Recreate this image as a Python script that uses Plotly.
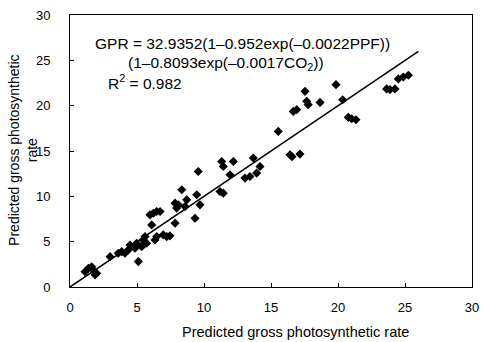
import plotly.graph_objects as go

observed = [1.12, 1.37, 1.62, 1.74, 1.99, 1.87, 2.99, 3.60, 3.86, 4.10, 4.35, 4.48, 4.85, 4.98,
            5.10, 5.35, 5.47, 5.60, 5.72, 6.10, 5.97, 6.22, 6.47, 6.72, 6.34, 6.47, 6.96, 7.22,
            7.46, 7.84, 7.96, 8.08, 7.84, 8.34, 8.71, 8.58, 9.33, 9.46, 9.57, 9.70, 11.19, 11.44,
            11.32, 11.44, 11.94, 12.19, 13.06, 13.43, 13.68, 13.93, 14.18, 15.54, 16.42, 16.57,
            17.16, 16.66, 16.92, 17.54, 17.66, 17.78, 18.66, 19.85, 20.35, 20.77, 21.02, 21.34,
            23.63, 23.88, 24.25, 24.50, 24.87, 25.25]
predicted = [1.69, 2.07, 2.24, 1.88, 1.51, 1.33, 3.35, 3.72, 3.90, 3.72, 4.09, 4.64, 4.28, 4.83,
             2.80, 4.45, 5.19, 5.56, 4.83, 6.85, 7.96, 8.14, 8.32, 8.32, 5.19, 5.56, 5.75, 5.56,
             5.64, 9.25, 8.70, 9.06, 7.04, 10.72, 9.61, 8.87, 7.59, 10.17, 12.74, 9.06, 10.53, 10.35,
             13.85, 13.29, 12.38, 13.85, 12.01, 12.19, 14.22, 12.56, 13.29, 17.16, 14.59, 14.36,
             14.66, 19.37, 19.56, 21.58, 20.48, 20.11, 20.36, 22.32, 20.66, 18.71, 18.56, 18.45,
             21.85, 21.77, 21.85, 22.95, 23.17, 23.35]
fit_x = [0, 26]
fit_y = [0, 26]
ticks = [0, 5, 10, 15, 20, 25, 30]

fig = go.Figure()
fig.add_trace(go.Scatter(x=fit_x, y=fit_y, mode="lines",
                         line=dict(color="black", width=1.5), showlegend=False))
fig.add_trace(go.Scatter(x=observed, y=predicted, mode="markers",
                         marker=dict(symbol="diamond", size=7, color="black"),
                         showlegend=False))

font = "Liberation Sans, Arial, sans-serif"
axis_common = dict(range=[0, 30], tickvals=ticks, showgrid=False, zeroline=False,
                   showline=True, linecolor="black", linewidth=1, mirror=True,
                   ticks="inside", ticklen=4, tickcolor="black", automargin=False,
                   tickfont=dict(family=font, size=13, color="black"))
fig.update_layout(
    width=484, height=342,
    margin=dict(l=70, r=12, t=15, b=55),
    paper_bgcolor="white", plot_bgcolor="white",
    font=dict(family=font, color="black"),
    xaxis=dict(**axis_common, ticklabelstandoff=8),
    yaxis=dict(**axis_common, ticklabelstandoff=16),
)
# axis titles
fig.add_annotation(x=0.56, y=-0.165, xref="paper", yref="paper", xanchor="center",
                   yanchor="middle", text="Predicted gross photosynthetic rate",
                   showarrow=False, font=dict(family=font, size=14.5))
fig.add_annotation(x=-0.117, y=0.504, xref="paper", yref="paper", xanchor="center",
                   yanchor="middle", textangle=-90,
                   text="Predicted gross photosynthetic<br>rate",
                   showarrow=False, font=dict(family=font, size=14))
# equation
fig.add_annotation(x=1.7, y=26.9, xref="x", yref="y", xanchor="left", yanchor="middle",
                   text="GPR = 32.9352(1\u20130.952exp(\u20130.0022PPF))",
                   showarrow=False, font=dict(family=font, size=15.5))
fig.add_annotation(x=4.15, y=24.7, xref="x", yref="y", xanchor="left", yanchor="middle",
                   text="(1\u20130.8093exp(\u20130.0017CO<sub>2</sub>))",
                   showarrow=False, font=dict(family=font, size=15.5))
fig.add_annotation(x=2.65, y=22.6, xref="x", yref="y", xanchor="left", yanchor="middle",
                   text="R<sup>2</sup> = 0.982",
                   showarrow=False, font=dict(family=font, size=15.5))

fig.write_html("out.html")
